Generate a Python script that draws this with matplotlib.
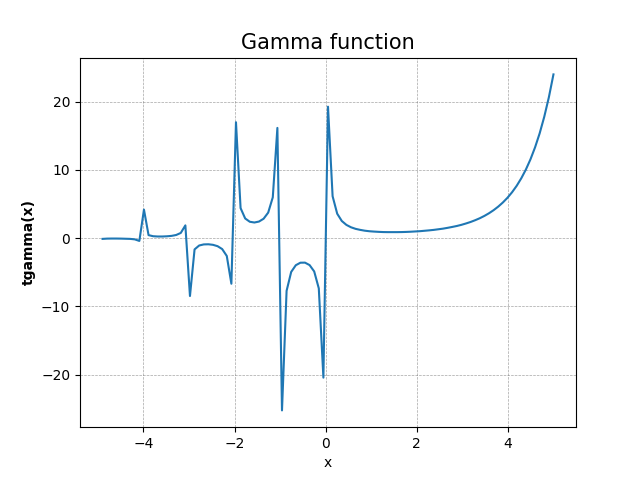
import numpy as np
import matplotlib
matplotlib.use("Agg")
import matplotlib.pyplot as plt

# sample points (first point x=-5 is a pole, dropped)
x = np.linspace(-5, 5, 100)[1:]

# tgamma(x) values
y = [-0.1, -0.06, -0.05, -0.05, -0.06, -0.08, -0.1, -0.17, -0.4, 4.19,
     0.45, 0.29, 0.25, 0.25, 0.28, 0.34, 0.47, 0.77, 1.88, -8.47,
     -1.64, -1.07, -0.91, -0.89, -0.97, -1.17, -1.59, -2.6, -6.67, 16.99,
     4.41, 2.89, 2.41, 2.3, 2.44, 2.85, 3.75, 5.99, 16.16, -25.23,
     -7.71, -4.94, -3.96, -3.59, -3.58, -3.94, -4.87, -7.35, -20.43, 19.27,
     6.15, 3.59, 2.52, 1.95, 1.6, 1.37, 1.22, 1.1, 1.02, 0.97,
     0.93, 0.9, 0.89, 0.89, 0.89, 0.9, 0.92, 0.95, 0.99, 1.03,
     1.09, 1.15, 1.22, 1.31, 1.4, 1.52, 1.65, 1.79, 1.96, 2.16,
     2.38, 2.64, 2.93, 3.27, 3.66, 4.11, 4.63, 5.23, 5.92, 6.73,
     7.67, 8.77, 10.05, 11.55, 13.31, 15.36, 17.79, 20.64, 24.0]

fig, ax = plt.subplots(figsize=(6.4, 4.8), dpi=100)
ax.plot(x, y, color="#1f77b4", linewidth=1.5)

ax.set_title("Gamma function", fontsize=15)
ax.set_xlabel("x")
ax.set_ylabel("tgamma(x)", fontweight="bold")
ax.grid(True, linestyle="--", linewidth=0.5, color="gray", alpha=0.7)

plt.savefig("out.png")
